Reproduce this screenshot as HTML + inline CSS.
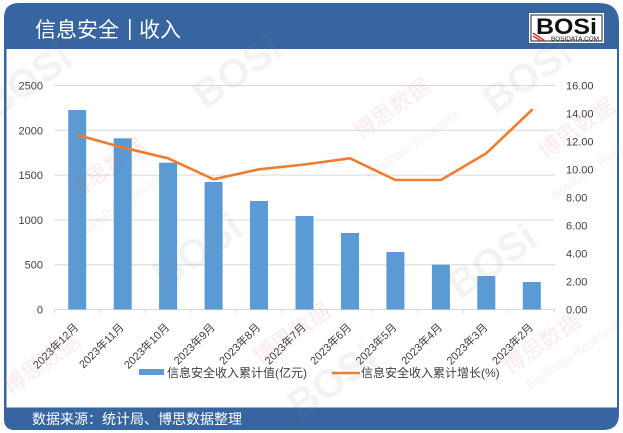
<!DOCTYPE html>
<html><head><meta charset="utf-8"><style>
html,body{margin:0;padding:0;background:#fff;}
svg{display:block;}
text{font-family:"Liberation Sans","Noto Sans CJK SC",sans-serif;}
</style></head><body>
<svg width="623" height="433" viewBox="0 0 623 433" xmlns="http://www.w3.org/2000/svg">
<!-- card -->
<path d="M19,3 H599 Q619,3 619,23 V414 Q619,430 603,430 H15 Q4,430 4,419 V18 Q4,3 19,3 Z" fill="#3765a0"/>
<rect x="6.5" y="49" width="610.5" height="358.5" fill="#fff"/>
<!-- title -->
<text x="35" y="37" font-size="21" fill="#fff">信息安全</text>
<rect x="129" y="19" width="1.6" height="21" fill="#fff"/>
<text x="139" y="37" font-size="21" fill="#fff">收入</text>
<!-- logo -->
<rect x="529" y="13" width="75" height="30" fill="#fff"/>
<rect x="531" y="15" width="71" height="26" fill="none" stroke="#222" stroke-width="1"/>
<text x="536" y="34" font-size="22" font-weight="bold" fill="#111" textLength="61" lengthAdjust="spacingAndGlyphs">BOSi</text>
<text x="551" y="40.5" font-size="5.5" fill="#111" textLength="48" lengthAdjust="spacingAndGlyphs">BOSIDATA.COM</text>
<path d="M533,36 L541,41 M533,33 L545,41" stroke="#d33" stroke-width="1.5"/>
<!-- gridlines -->
<g stroke="#d9d9d9" stroke-width="1">
<line x1="54" y1="85.5" x2="555" y2="85.5"/>
<line x1="54" y1="130.3" x2="555" y2="130.3"/>
<line x1="54" y1="175.1" x2="555" y2="175.1"/>
<line x1="54" y1="219.9" x2="555" y2="219.9"/>
<line x1="54" y1="264.7" x2="555" y2="264.7"/>
<line x1="54" y1="309.5" x2="555" y2="309.5"/>
</g>
<g stroke="#d9d9d9" stroke-width="1">
<line x1="54.5" y1="309.5" x2="54.5" y2="313"/>
<line x1="100" y1="309.5" x2="100" y2="313"/>
<line x1="145.4" y1="309.5" x2="145.4" y2="313"/>
<line x1="190.9" y1="309.5" x2="190.9" y2="313"/>
<line x1="236.3" y1="309.5" x2="236.3" y2="313"/>
<line x1="281.8" y1="309.5" x2="281.8" y2="313"/>
<line x1="327.3" y1="309.5" x2="327.3" y2="313"/>
<line x1="372.7" y1="309.5" x2="372.7" y2="313"/>
<line x1="418.2" y1="309.5" x2="418.2" y2="313"/>
<line x1="463.6" y1="309.5" x2="463.6" y2="313"/>
<line x1="509.1" y1="309.5" x2="509.1" y2="313"/>
<line x1="554.5" y1="309.5" x2="554.5" y2="313"/>
</g>
<!-- left axis labels -->
<g font-size="11" fill="#404040" text-anchor="end">
<text x="43" y="89.5">2500</text>
<text x="43" y="134.3">2000</text>
<text x="43" y="179.1">1500</text>
<text x="43" y="223.9">1000</text>
<text x="43" y="268.7">500</text>
<text x="43" y="313.5">0</text>
</g>
<!-- right axis labels -->
<g font-size="11" fill="#404040">
<text x="566" y="89.5">16.00</text>
<text x="566" y="117.5">14.00</text>
<text x="566" y="145.5">12.00</text>
<text x="566" y="173.5">10.00</text>
<text x="566" y="201.5">8.00</text>
<text x="566" y="229.5">6.00</text>
<text x="566" y="257.5">4.00</text>
<text x="566" y="285.5">2.00</text>
<text x="566" y="313.5">0.00</text>
</g>
<!-- bars -->
<g fill="#5b9bd5">
<rect x="68.2" y="110" width="18" height="199.5"/>
<rect x="113.7" y="138.3" width="18" height="171.2"/>
<rect x="159.1" y="162.7" width="18" height="146.8"/>
<rect x="204.6" y="182" width="18" height="127.5"/>
<rect x="250" y="201" width="18" height="108.5"/>
<rect x="295.5" y="216" width="18" height="93.5"/>
<rect x="341" y="233" width="18" height="76.5"/>
<rect x="386.4" y="252" width="18" height="57.5"/>
<rect x="431.9" y="264.7" width="18" height="44.8"/>
<rect x="477.3" y="276" width="18" height="33.5"/>
<rect x="522.8" y="282" width="18" height="27.5"/>
</g>
<!-- line -->
<polyline fill="none" stroke="#ed7d31" stroke-width="2.6" stroke-linejoin="round" stroke-linecap="round"
 points="77.2,135 122.7,147.5 168.1,158.3 213.6,179.3 259,169.3 304.5,164.5 350,158.3 395.4,180 440.9,180 486.3,153.3 531.8,110"/>
<!-- x labels -->
<g font-size="11" fill="#404040" text-anchor="end">
<text transform="translate(79,328) rotate(-45)">2023年12月</text>
<text transform="translate(124.5,328) rotate(-45)">2023年11月</text>
<text transform="translate(170,328) rotate(-45)">2023年10月</text>
<text transform="translate(215.5,328) rotate(-45)">2023年9月</text>
<text transform="translate(261,328) rotate(-45)">2023年8月</text>
<text transform="translate(306.5,328) rotate(-45)">2023年7月</text>
<text transform="translate(352,328) rotate(-45)">2023年6月</text>
<text transform="translate(397.4,328) rotate(-45)">2023年5月</text>
<text transform="translate(442.9,328) rotate(-45)">2023年4月</text>
<text transform="translate(488.3,328) rotate(-45)">2023年3月</text>
<text transform="translate(533.8,328) rotate(-45)">2023年2月</text>
</g>
<!-- legend -->
<rect x="139" y="369" width="25" height="6" fill="#5b9bd5"/>
<text x="167" y="377" font-size="12" fill="#404040">信息安全收入累计值(亿元)</text>
<line x1="332" y1="373" x2="360" y2="373" stroke="#ed7d31" stroke-width="2.6"/>
<text x="361" y="377" font-size="12" fill="#404040">信息安全收入累计增长(%)</text>
<!-- footer -->
<text x="32" y="424" font-size="14" fill="#fff">数据来源：统计局、博思数据整理</text>
<!-- watermarks -->
<g font-weight="bold" font-size="40" fill="#888" fill-opacity="0.1">
<text transform="translate(205,110) rotate(-35)">BOSi</text>
<text transform="translate(495,115) rotate(-35)">BOSi</text>
<text transform="translate(165,290) rotate(-35)">BOSi</text>
<text transform="translate(460,300) rotate(-35)">BOSi</text>
<text transform="translate(-5,120) rotate(-35)">BOSi</text>
<text transform="translate(300,420) rotate(-35)">BOSi</text>
</g>
<g font-size="22" fill="#e05050" fill-opacity="0.12">
<text transform="translate(75,200) rotate(-35)">博思数据</text>
<text transform="translate(360,140) rotate(-35)">博思数据</text>
<text transform="translate(260,365) rotate(-35)">博思数据</text>
<text transform="translate(545,160) rotate(-35)">博思数据</text>
<text transform="translate(510,375) rotate(-35)">博思数据</text>
<text transform="translate(10,395) rotate(-35)">博思数据</text>
</g>
<g font-size="13" fill="#888" fill-opacity="0.12">
<text transform="translate(85,235) rotate(-35)">BosiData Research</text>
<text transform="translate(370,180) rotate(-35)">BosiData Research</text>
<text transform="translate(555,200) rotate(-35)">BosiData Research</text>
<text transform="translate(530,390) rotate(-35)">BosiData Research</text>
</g>
</svg>
</body></html>
